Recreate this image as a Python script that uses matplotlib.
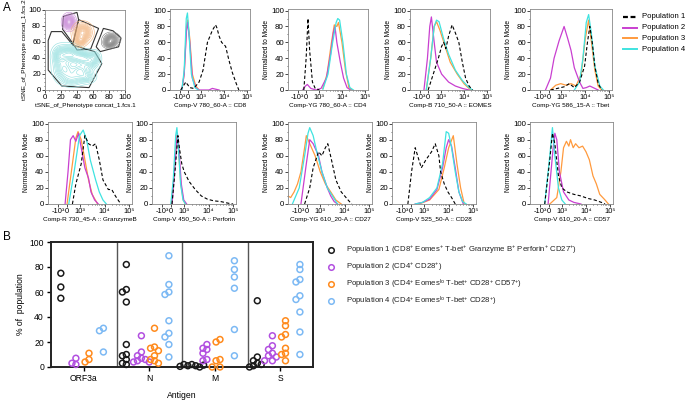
import numpy as np
import matplotlib
matplotlib.use("Agg")
import matplotlib.pyplot as plt
from matplotlib.lines import Line2D
from matplotlib.patches import Polygon

plt.rcParams['font.family'] = ['Liberation Sans', 'DejaVu Sans']
plt.rcParams['mathtext.fontset'] = 'custom'
plt.rcParams['mathtext.rm'] = 'Liberation Sans'
plt.rcParams['mathtext.it'] = 'Liberation Sans:italic'
plt.rcParams['mathtext.bf'] = 'Liberation Sans:bold'

W, H = 686, 400
fig = plt.figure(figsize=(6.86, 4.0), dpi=100)


def ax_px(l, t, w, h):
    return fig.add_axes([l / W, 1 - (t + h) / H, w / W, h / H])

# ---------------- DATA ----------------
pop_names = ["Population 1", "Population 2", "Population 3", "Population 4"]
hist_colors = {"P1": "black", "P2": "#c93fd0", "P3": "#ff9a3d", "P4": "#3fe3e0"}

# x in biexponential display units (3 = 10^3, 4 = 10^4, 5 = 10^5), y = % of mode
hist_cd8 = {
    "P1": ([2.14, 2.36, 2.53, 2.7, 2.93, 3.1, 3.29, 3.5, 3.64, 3.7, 3.79, 3.9, 4.07, 4.21, 4.36, 4.53, 4.64],
           [0, 10, 3, 2, 10, 25, 60, 75, 82, 78, 68, 60, 55, 38, 22, 8, 0]),
    "P2": ([2.19, 2.29, 2.39, 2.44, 2.53, 2.64, 2.79, 2.93, 3.36, 3.5, 3.79],
           [0, 20, 75, 85, 60, 15, 3, 0, 0, 2, 0]),
    "P3": ([2.19, 2.29, 2.39, 2.44, 2.53, 2.64, 2.79, 2.93],
           [0, 20, 80, 88, 65, 20, 5, 0]),
    "P4": ([2.19, 2.29, 2.38, 2.43, 2.5, 2.6, 2.75, 2.9],
           [0, 25, 90, 97, 70, 20, 3, 0]),
}
hist_cd4 = {
    "P1": ([2.36, 2.46, 2.54, 2.61, 2.73, 2.85, 3.03], [0, 40, 90, 50, 10, 2, 0]),
    "P2": ([2.31, 2.43, 2.51, 2.66, 2.88, 3.1, 3.33, 3.51, 3.63, 3.7, 3.78, 3.93, 4.07, 4.22, 4.37],
           [0, 5, 7, 2, 0, 2, 15, 45, 72, 80, 60, 35, 15, 3, 0]),
    "P3": ([3.18, 3.36, 3.55, 3.67, 3.78, 3.85, 4.0, 4.15, 4.3, 4.45],
           [2, 20, 60, 82, 80, 85, 60, 25, 3, 0]),
    "P4": ([3.18, 3.4, 3.6, 3.75, 3.82, 3.9, 4.04, 4.19, 4.34, 4.49],
           [1, 20, 60, 85, 90, 88, 60, 20, 3, 0]),
}
hist_eomes = {
    "P1": ([2.46, 2.68, 2.9, 3.04, 3.13, 3.22, 3.34, 3.49, 3.63, 3.78, 3.93, 4.07, 4.22, 4.37],
           [0, 20, 40, 55, 60, 52, 68, 82, 72, 60, 35, 15, 5, 0]),
    "P2": ([2.28, 2.43, 2.53, 2.6, 2.72, 2.82, 3.04, 3.34, 3.63, 3.93, 4.22],
           [0, 40, 80, 92, 60, 35, 20, 10, 5, 2, 0]),
    "P3": ([2.38, 2.57, 2.72, 2.82, 2.97, 3.19, 3.41, 3.71, 4.0, 4.29],
           [0, 40, 80, 86, 75, 55, 35, 20, 8, 0]),
    "P4": ([2.38, 2.57, 2.72, 2.82, 2.93, 3.12, 3.34, 3.63, 3.93, 4.22, 4.37],
           [0, 40, 80, 88, 86, 65, 45, 25, 12, 3, 0]),
}
hist_tbet = {
    "P1": ([2.54, 3.11, 3.33, 3.54, 3.76, 3.97, 4.09, 4.19, 4.29, 4.4, 4.54, 4.69],
           [0, 4, 8, 3, 10, 30, 60, 80, 60, 30, 8, 0]),
    "P2": ([2.33, 2.54, 2.69, 2.9, 3.11, 3.26, 3.4, 3.54, 3.76, 3.9, 4.04, 4.19, 4.33, 4.54],
           [0, 15, 40, 62, 80, 65, 50, 28, 10, 2, 3, 5, 3, 0]),
    "P3": ([2.54, 2.76, 2.97, 3.19, 3.4, 3.61, 3.83, 4.0, 4.14, 4.26, 4.4, 4.54, 4.69],
           [0, 6, 8, 6, 8, 5, 20, 65, 88, 60, 25, 5, 0]),
    "P4": ([3.54, 3.76, 3.9, 4.04, 4.14, 4.26, 4.4, 4.61, 4.76],
           [0, 10, 40, 85, 95, 70, 30, 5, 0]),
}
hist_gzmb = {
    "P1": ([2.68, 2.82, 3.04, 3.19, 3.34, 3.49, 3.63, 3.78, 3.93, 4.15, 4.29, 4.44, 4.66],
           [0, 25, 50, 85, 75, 72, 75, 55, 30, 18, 18, 10, 0]),
    "P2": ([2.38, 2.5, 2.6, 2.71, 2.82, 2.93, 3.04, 3.19, 3.34, 3.44, 3.59, 3.74],
           [0, 40, 80, 85, 78, 88, 70, 45, 32, 15, 5, 0]),
    "P3": ([2.46, 2.68, 2.82, 2.91, 3.04, 3.19, 3.34, 3.49, 3.71],
           [0, 50, 82, 90, 80, 55, 30, 12, 0]),
    "P4": ([2.53, 2.75, 2.97, 3.12, 3.26, 3.41, 3.63, 3.78, 3.93, 4.07],
           [0, 40, 85, 92, 80, 55, 30, 15, 5, 0]),
}
hist_perf = {
    "P1": ([2.5, 2.62, 2.74, 2.8, 2.9, 3.0, 3.2, 3.45, 3.7, 3.95, 4.2, 4.5, 4.8, 5.0],
           [0, 40, 85, 70, 50, 40, 28, 18, 10, 6, 4, 3, 1, 0]),
    "P2": ([2.5, 2.6, 2.72, 2.78, 2.88, 2.98, 3.1], [0, 40, 88, 70, 25, 5, 0]),
    "P3": ([2.48, 2.58, 2.7, 2.76, 2.86, 2.96, 3.05], [0, 35, 85, 70, 25, 5, 0]),
    "P4": ([2.45, 2.55, 2.65, 2.7, 2.76, 2.85, 2.95, 3.05], [0, 30, 85, 95, 70, 25, 5, 0]),
}
hist_cd27 = {
    "P1": ([2.36, 2.57, 2.71, 2.93, 3.07, 3.21, 3.31, 3.46, 3.64, 3.86, 4.0, 4.14, 4.29],
           [0, 20, 45, 65, 60, 70, 75, 55, 30, 15, 10, 5, 0]),
    "P2": ([2.21, 2.43, 2.57, 2.71, 2.93, 3.07, 3.29, 3.43, 3.57, 3.71],
           [0, 50, 80, 75, 60, 40, 20, 10, 3, 0]),
    "P3": ([1.68, 1.79, 1.93, 2.07, 2.21, 2.36, 2.43, 2.57, 2.79, 3.0, 3.21, 3.43, 3.64, 3.86],
           [10, 8, 15, 25, 40, 70, 85, 75, 60, 40, 25, 15, 5, 0]),
    "P4": ([1.86, 2.14, 2.36, 2.5, 2.57, 2.71, 2.86, 3.07, 3.29, 3.5, 3.71],
           [0, 20, 60, 88, 95, 85, 65, 40, 20, 10, 0]),
}
hist_cd28 = {
    "P1": ([2.33, 2.48, 2.63, 2.78, 2.88, 3.07, 3.3, 3.45, 3.6, 3.67, 3.82, 3.97, 4.12, 4.27],
           [0, 40, 70, 55, 45, 55, 65, 75, 60, 40, 25, 15, 8, 0]),
    "P2": ([2.63, 2.93, 3.22, 3.52, 3.75, 3.9, 4.0, 4.12, 4.27, 4.42, 4.6],
           [0, 2, 6, 18, 45, 70, 80, 72, 45, 15, 0]),
    "P3": ([2.78, 3.22, 3.6, 3.82, 4.0, 4.19, 4.34, 4.49, 4.64],
           [0, 5, 18, 45, 70, 85, 50, 20, 0]),
    "P4": ([2.63, 2.93, 3.22, 3.52, 3.75, 3.9, 4.0, 4.12, 4.27, 4.42, 4.57, 4.72],
           [0, 2, 8, 20, 50, 90, 88, 70, 40, 15, 3, 0]),
}
hist_cd57 = {
    "P1": ([2.29, 2.5, 2.61, 2.71, 2.86, 3.0, 3.21, 3.5, 3.79, 4.07, 4.36, 4.64, 4.79],
           [0, 55, 88, 75, 35, 20, 15, 12, 10, 7, 5, 2, 0]),
    "P2": ([2.43, 2.64, 2.71, 2.79, 2.9, 3.07, 3.29, 3.5, 3.79],
           [0, 70, 88, 80, 40, 15, 5, 2, 0]),
    "P3": ([2.5, 2.79, 2.96, 3.07, 3.19, 3.29, 3.36, 3.47, 3.57, 3.71, 3.86, 4.0, 4.14, 4.29, 4.43, 4.57, 4.79, 4.93],
           [0, 8, 40, 70, 78, 72, 80, 70, 75, 70, 72, 65, 55, 35, 25, 12, 5, 0]),
    "P4": ([2.29, 2.5, 2.61, 2.71, 2.86, 3.0, 3.14], [0, 60, 95, 60, 20, 5, 0]),
}

# tSNE clusters: (center x, center y, spread x, spread y, weight)
tsne_p4_blobs = [(30, 45, 8, 6, 1.0), (46, 40, 8, 5, 0.9), (24, 26, 7, 8, 0.8),
                 (44, 24, 8, 6, 0.8), (57, 35, 6, 5, 0.6), (18, 42, 5, 7, 0.6),
                 (34, 14, 8, 5, 0.5), (52, 16, 6, 4, 0.45), (62, 42, 4, 4, 0.4)]
tsne_p2_blobs = [(30, 85, 4, 5, 1.0)]
tsne_p3_blobs = [(47, 72, 6, 6, 1.0), (44, 62, 4, 4, 0.6)]
tsne_p1_blobs = [(83, 63, 5, 4, 1.0), (80, 58, 4, 3, 0.6)]
gate_p2 = [(23, 92), (40, 97), (42, 88), (35, 58), (22, 76)]
gate_p3 = [(42, 88), (67, 77), (57, 51), (40, 50), (35, 58)]
gate_p1 = [(73, 77), (85, 74), (95, 65), (92, 54), (69, 48), (64, 54)]
gate_p4 = [(8, 73), (21, 73), (35, 56), (62, 48), (71, 33), (55, 3), (21, 5), (4, 25), (4, 62)]

# Panel B
antigens = ["ORF3a", "N", "M", "S"]
b_pop1 = [[75, 64, 55], [82, 62, 60, 52, 18, 10, 9, 6, 3, 2], [2, 1, 2, 1, 0.5, 1.5, 0],
          [53, 8, 5, 3, 2, 1, 0]]
b_pop2 = [[7, 2, 3], [25, 12, 9, 7, 6, 5, 4, 4], [18, 15, 14, 11, 6, 5], [25, 17, 14, 11, 9, 8, 5, 5]]
b_pop3 = [[11, 6, 4], [31, 16, 15, 13, 9, 6, 5, 3], [22, 20, 6, 5, 0, 0], [37, 33, 26, 24, 15, 11, 10, 5]]
b_pop4 = [[31, 29, 12], [89, 66, 60, 58, 37, 27, 24, 18, 8], [85, 78, 72, 63, 30, 9],
          [82, 78, 70, 68, 57, 54, 44, 28, 10]]
b_colors = ["#1a1a1a", "#b24fe0", "#ff8a1c", "#7cb9f4"]
b_labels = [
    r"Population 1 (CD8$^{+}$ Eomes$^{+}$ T-bet$^{+}$ Granzyme B$^{+}$ Perforin$^{+}$ CD27$^{+}$)",
    r"Population 2 (CD4$^{+}$ CD28$^{+}$)",
    r"Population 3 (CD4$^{+}$ Eomes$^{\mathrm{lo}}$ T-bet$^{+}$ CD28$^{+}$ CD57$^{+}$)",
    r"Population 4 (CD4$^{+}$ Eomes$^{\mathrm{lo}}$ T-bet$^{+}$ CD28$^{+}$)",
]

# ---------------- PANEL A: tSNE ----------------
ax = ax_px(45, 10, 80, 80)
gx = np.linspace(0, 100, 240)
X, Y = np.meshgrid(gx, gx)


def density(blobs):
    Z = np.zeros_like(X)
    for cx, cy, sx, sy, w in blobs:
        Z += w * np.exp(-0.5 * (((X - cx) / sx) ** 2 + ((Y - cy) / sy) ** 2))
    return Z

for blobs, col in [(tsne_p4_blobs, "#8fdede"), (tsne_p2_blobs, "#c98ad8"),
                   (tsne_p3_blobs, "#f2b37c"), (tsne_p1_blobs, "#7f7f7f")]:
    Z = density(blobs)
    ax.contour(X, Y, Z, levels=np.linspace(0.05, 0.95, 13) * Z.max(), colors=col, linewidths=0.4)
for g in [gate_p1, gate_p2, gate_p3, gate_p4]:
    ax.add_patch(Polygon(g, closed=True, fill=False, ec="#333333", lw=0.8))
ax.set_xlim(0, 100)
ax.set_ylim(0, 100)
ax.set_xticks(range(0, 101, 20))
ax.set_yticks(range(0, 101, 20))
ax.set_xticks(range(0, 101, 5), minor=True)
ax.set_yticks(range(0, 101, 5), minor=True)
ax.tick_params(labelsize=5.7, length=2, width=0.5, pad=1)
ax.tick_params(which="minor", length=1, width=0.4)
for s in ax.spines.values():
    s.set_color("#888888")
    s.set_linewidth(0.6)
ax.set_xlabel("tSNE_of_Phenotype concat_1.fcs.1", fontsize=4.6, labelpad=1)
ax.set_ylabel("tSNE_of_Phenotype concat_1.fcs.2", fontsize=4.6, labelpad=1)

# ---------------- PANEL A: histograms ----------------
tick_pos = [2.1, 2.46, 3, 4, 5]
tick_lab = ["-10\u00b3", "0", "10\u00b3", "10\u2074", "10\u2075"]
minor_pos = [3 + np.log10(k) for k in range(2, 10)] + [4 + np.log10(k) for k in range(2, 10)]


def hist_panel(l, t, w, h, data, xlabel):
    a = ax_px(l, t, w, h)
    for key in ["P1", "P3", "P2", "P4"]:
        xs, ys = data[key]
        a.plot(xs, ys, color=hist_colors[key], lw=0.9 if key != "P1" else 0.8,
               ls=(0, (3, 2)) if key == "P1" else "-", zorder=3 if key == "P1" else 2)
    a.set_xlim(1.68, 5.12)
    a.set_ylim(0, 102)
    a.set_xticks(tick_pos)
    a.set_xticklabels(tick_lab)
    a.set_xticks(minor_pos, minor=True)
    a.set_yticks(range(0, 101, 20))
    a.set_yticks(range(0, 101, 10), minor=True)
    a.tick_params(axis="x", labelsize=5.4, length=2, width=0.5, pad=1)
    a.tick_params(axis="y", labelsize=5.7, length=2, width=0.5, pad=1)
    a.tick_params(which="minor", length=1, width=0.4)
    for s in a.spines.values():
        s.set_color("#888888")
        s.set_linewidth(0.6)
    a.set_ylabel("Normalized to Mode", fontsize=4.8, labelpad=1)
    a.set_xlabel(xlabel, fontsize=4.6, labelpad=1.5)
    return a

hist_panel(170, 9, 80, 81, hist_cd8, "Comp-V 780_60-A :: CD8")
hist_panel(288, 9, 80, 81, hist_cd4, "Comp-YG 780_60-A :: CD4")
hist_panel(410, 9, 80, 81, hist_eomes, "Comp-B 710_50-A :: EOMES")
hist_panel(530, 9, 82, 81, hist_tbet, "Comp-YG 586_15-A :: Tbet")
hist_panel(48, 122, 84, 82, hist_gzmb, "Comp-R 730_45-A :: GranzymeB")
hist_panel(152, 122, 84, 82, hist_perf, "Comp-V 450_50-A :: Perforin")
hist_panel(288, 122, 84, 82, hist_cd27, "Comp-YG 610_20-A :: CD27")
hist_panel(392, 122, 84, 82, hist_cd28, "Comp-V 525_50-A :: CD28")
hist_panel(530, 122, 83, 82, hist_cd57, "Comp-V 610_20-A :: CD57")

# legend A
for i, key in enumerate(["P1", "P2", "P3", "P4"]):
    yy = 1 - (17 + 10.7 * i) / H
    fig.add_artist(Line2D([623 / W, 637 / W], [yy, yy], color=hist_colors[key],
                          lw=1.6 if key == "P1" else 1.4,
                          ls=(0, (2.2, 1.2)) if key == "P1" else "-"))
    fig.text(642 / W, yy, pop_names[i], fontsize=5.6, va="center", ha="left")

fig.text(3 / W, 1 - 8 / H, "A", fontsize=8.5, va="center", ha="left")
fig.text(3 / W, 1 - 237 / H, "B", fontsize=8.5, va="center", ha="left")

# ---------------- PANEL B ----------------
axB = ax_px(51, 242, 262, 125)
group_off = [-0.35, -0.12, 0.08, 0.3]
px_per_x = 262 / 4.0
px_per_y = 125 / 100.0
diam = 5.0


def swarm(values, center):
    placed = []
    xs = []
    for v in values:
        for cand in [0, -0.06, 0.06, -0.12, 0.12, -0.18, 0.18]:
            ok = True
            for (px, py) in placed:
                dx = (center + cand - px) * px_per_x
                dy = (v - py) * px_per_y
                if dx * dx + dy * dy < (diam * 0.8) ** 2:
                    ok = False
                    break
            if ok:
                break
        placed.append((center + cand, v))
        xs.append(center + cand)
    return xs

for gi, (pop, col) in enumerate(zip([b_pop1, b_pop2, b_pop3, b_pop4], b_colors)):
    for ci, vals in enumerate(pop):
        xs = swarm(vals, ci + group_off[gi])
        axB.scatter(xs, vals, s=18, facecolors="none", edgecolors=col, linewidths=1.1,
                    clip_on=False, zorder=3)
for xv in [0.5, 1.5, 2.5]:
    axB.axvline(xv, color="#555555", lw=1.0, zorder=1)
axB.set_xlim(-0.5, 3.5)
axB.set_ylim(0, 100)
axB.set_yticks(range(0, 101, 20))
axB.set_xticks(range(4))
axB.set_xticklabels(antigens)
for s in axB.spines.values():
    s.set_linewidth(1.4)
    s.set_color("#222222")
axB.tick_params(labelsize=6.2, length=3, width=1.0, pad=2)
axB.set_ylabel("% of  population", fontsize=6.2, labelpad=3)
axB.set_xlabel("Antigen", fontsize=6.2, labelpad=6)

for i in range(4):
    yy = 1 - (250 + 17 * i) / H
    fig.add_artist(Line2D([331 / W], [yy], marker="o", ms=4, mfc="none", mec=b_colors[i], mew=1.1, ls="none"))
    fig.text(346 / W, yy, b_labels[i], fontsize=5.6, va="center", ha="left", color="#222222")

fig.savefig("out.png", dpi=100)
